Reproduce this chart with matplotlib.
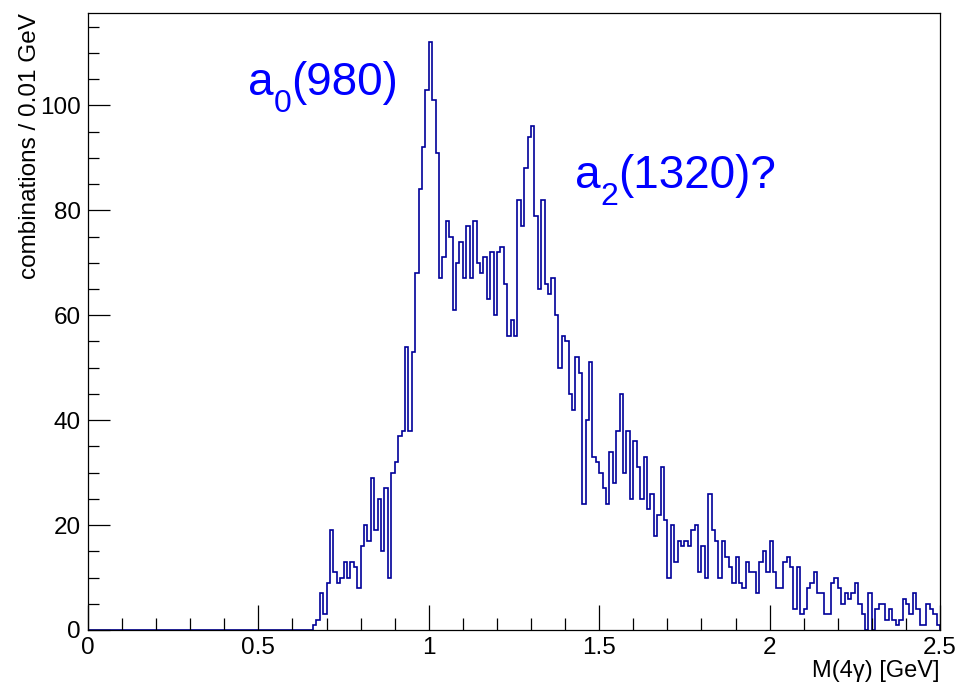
import numpy as np
import matplotlib
matplotlib.use('Agg')
import matplotlib.pyplot as plt
from matplotlib.ticker import MultipleLocator
from matplotlib.transforms import offset_copy

plt.rcParams['font.family'] = ['Liberation Sans', 'DejaVu Sans']

# binning: 250 bins of 0.01 GeV from 0 to 2.5, first filled bin at 0.66
bin_width = 0.01
x_min, x_max = 0.0, 2.5
first_bin = 0.66

# counts per bin
counts_066_099 = [1, 2, 7, 3, 9, 19, 11, 9, 10, 13, 10, 13, 12, 8, 16, 20, 17,
                  29, 19, 25, 15, 27, 10, 30, 32, 37, 38, 54, 38, 53, 68, 84,
                  92, 103]
counts_100_149 = [112, 101, 91, 67, 71, 78, 75, 61, 70, 74, 67, 77, 67, 78, 70,
                  68, 71, 63, 72, 60, 72, 73, 66, 56, 59, 56, 82, 77, 88, 94,
                  96, 79, 65, 82, 66, 64, 67, 60, 50, 56, 55, 45, 42, 52, 49,
                  24, 40, 51, 33, 32]
counts_150_199 = [30, 27, 24, 34, 28, 38, 45, 30, 38, 25, 36, 31, 25, 33, 23,
                  26, 18, 22, 31, 21, 10, 20, 13, 17, 16, 17, 16, 19, 20, 11,
                  16, 10, 26, 19, 17, 10, 17, 14, 12, 9, 14, 9, 8, 13, 11, 11,
                  7, 13, 15, 11]
counts_200_249 = [17, 11, 8, 8, 13, 14, 12, 4, 12, 3, 4, 8, 9, 11, 7, 7, 3, 3,
                  9, 10, 8, 5, 7, 6, 7, 9, 5, 3, 0, 7, 0, 4, 5, 5, 2, 4, 2, 1,
                  2, 6, 5, 3, 7, 4, 1, 1, 5, 4, 3, 1]

x_title = 'M(4\u03b3) [GeV]'
y_title = 'combinations / 0.01 GeV'
# peak labels: (prefix, subscript, rest)
peak_labels = [('a', '0', '(980)'), ('a', '2', '(1320)?')]
peak_pos = [(0.4695, 101.9), (1.429, 84.2)]

n_bins = int(round((x_max - x_min) / bin_width))
edges = np.linspace(x_min, x_max, n_bins + 1)
counts = np.zeros(n_bins)
filled = counts_066_099 + counts_100_149 + counts_150_199 + counts_200_249
i0 = int(round((first_bin - x_min) / bin_width))
counts[i0:i0 + len(filled)] = filled

fig = plt.figure(figsize=(9.58, 6.84), dpi=100)
ax = fig.add_axes([88 / 958, 1 - 630 / 684, (940 - 88) / 958, (630 - 13) / 684])

ax.stairs(counts, edges, color='#000099', linewidth=1.2, baseline=0)

ax.set_xlim(x_min, x_max)
ax.set_ylim(0, 1.05 * max(filled))

ax.xaxis.set_major_locator(MultipleLocator(0.5))
ax.xaxis.set_minor_locator(MultipleLocator(0.1))
ax.yaxis.set_major_locator(MultipleLocator(20))
ax.yaxis.set_minor_locator(MultipleLocator(5))
ax.xaxis.set_major_formatter(plt.FuncFormatter(lambda v, p: f'{v:g}'))

ax.tick_params(axis='both', which='both', direction='in', top=False, right=False,
               labelsize=17.5, width=0.9, color='black')
ax.tick_params(axis='x', which='major', length=18, pad=5)
ax.tick_params(axis='x', which='minor', length=9)
ax.tick_params(axis='y', which='major', length=16, pad=5)
ax.tick_params(axis='y', which='minor', length=8)
for s in ax.spines.values():
    s.set_linewidth(0.9)

# axis titles placed ROOT-style at the far end of each axis
fig.text(940 / 958, 1 - 677 / 684, x_title, ha='right', va='baseline', fontsize=17)
fig.text(30 / 958, 1 - 13 / 684, y_title, ha='center', va='top', rotation=90, fontsize=17.5)

# peak labels with a ROOT-like lowered subscript
renderer = fig.canvas.get_renderer()
for (pre, sub, rest), (xp, yp) in zip(peak_labels, peak_pos):
    t1 = ax.text(xp, yp, pre, color='#0000ff', fontsize=33, ha='left', va='baseline')
    w1 = t1.get_window_extent(renderer).width
    tr2 = offset_copy(ax.transData, fig=fig, x=w1, y=-17, units='dots')
    t2 = ax.text(xp, yp, sub, color='#0000ff', fontsize=23, ha='left', va='baseline',
                 transform=tr2)
    w2 = t2.get_window_extent(renderer).width
    tr3 = offset_copy(ax.transData, fig=fig, x=w1 + w2, y=0, units='dots')
    ax.text(xp, yp, rest, color='#0000ff', fontsize=33, ha='left', va='baseline',
            transform=tr3)

fig.savefig('out.png', dpi=100)
